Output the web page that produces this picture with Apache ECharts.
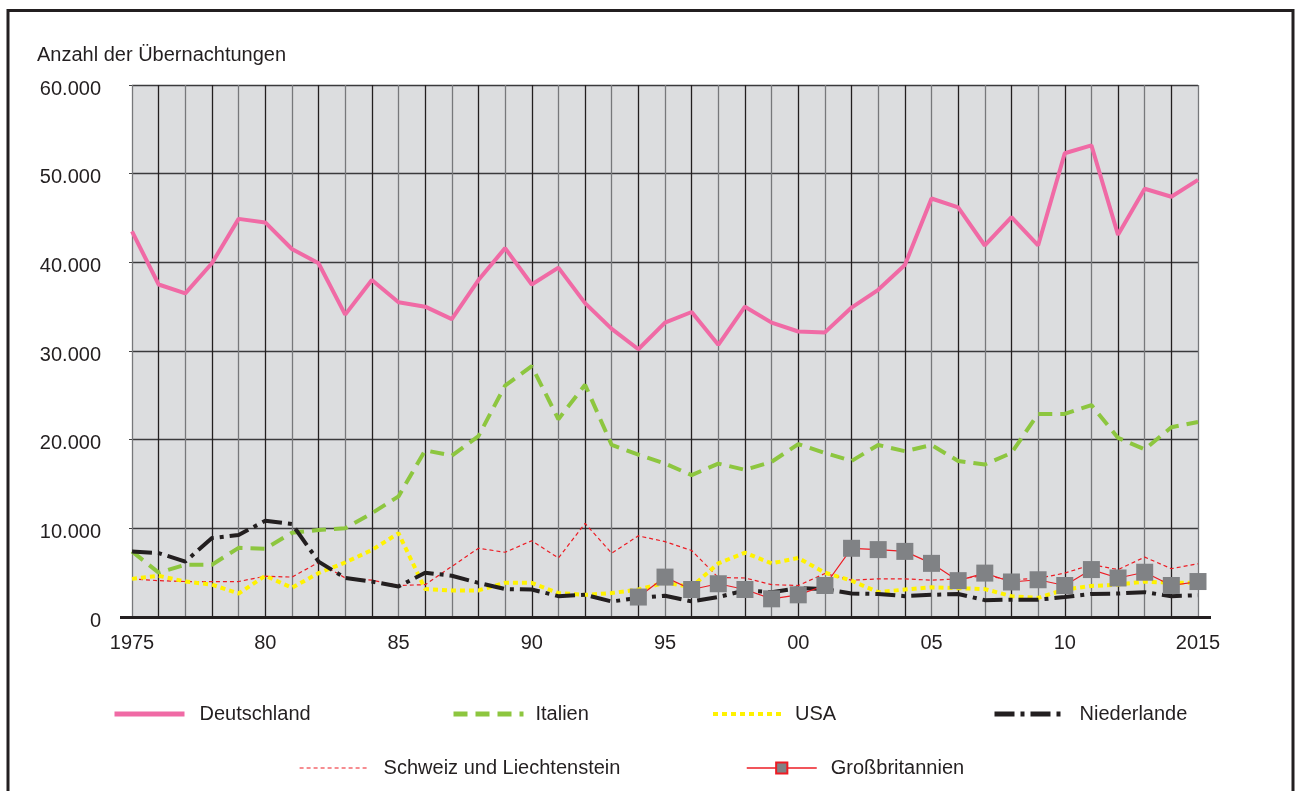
<!DOCTYPE html>
<html><head><meta charset="utf-8">
<script src="https://cdn.jsdelivr.net/npm/echarts@6/dist/echarts.min.js"></script>
<style>html,body{margin:0;padding:0;background:#fff}#c{width:1300px;height:791px}</style>
</head><body><div id="c"></div>
<script>
const years = [];
for (let y = 1975; y <= 2015; y++) years.push(String(y));
const tickLabels = ['1975','80','85','90','95','00','05','10','2015'];
const yAxisTitle = 'Anzahl der Übernachtungen';

const deutschland = [43500,37500,36500,39900,44900,44500,41500,39900,34100,38000,35500,35000,33600,38000,41600,37500,39400,35400,32500,30200,33200,34400,30700,35000,33200,32200,32100,34900,36900,39700,47200,46200,41900,45100,41900,52300,53200,43100,48300,47400,49300];
const italien = [7400,5000,5900,5900,7800,7700,9500,9800,10000,11700,13600,18800,18200,20400,26100,28300,22300,26200,19400,18300,17300,16000,17300,16600,17500,19500,18500,17600,19400,18700,19400,17600,17200,18500,22900,22900,23900,20200,18900,21400,22000];
const usa = [4300,4650,4000,3650,2650,4650,3300,4950,6150,7550,9450,3150,3000,3000,3850,3850,2700,2500,2700,3100,3850,3400,6050,7250,6050,6650,5000,4100,2800,3100,3350,3250,3150,2350,2150,3100,3500,3650,4000,3850,3850];
const niederlande = [7400,7200,6250,8900,9250,10850,10500,6250,4400,4000,3450,5000,4650,3850,3150,3100,2350,2500,1750,2150,2400,1750,2250,3000,2800,3250,3150,2650,2600,2350,2500,2600,1900,1950,1950,2250,2600,2650,2800,2350,2450];
const schweiz = [4300,4100,4000,4000,4000,4600,4500,6150,4400,4150,3550,3650,5700,7750,7300,8600,6650,10550,7200,9150,8500,7500,4450,4400,3650,3550,4900,4150,4300,4300,4150,4300,4650,4200,4350,4950,5900,5350,6750,5450,6000];
const grossbritannien = [null,null,null,null,null,null,null,null,null,null,null,null,null,null,null,null,null,null,null,2250,4500,3100,3750,3100,2050,2500,3550,7750,7600,7400,6050,4100,4950,3950,4200,3550,5350,4400,5050,3550,4000];

const FONT = 'Liberation Sans';
const chart = echarts.init(document.getElementById('c'), null, {renderer: 'canvas'});

function lg(name, left, top, pad, lw, withSymbol) {
  const o = {
    data: [name], left: left, top: top, padding: 0, itemWidth: 70, itemHeight: 14, orient: 'horizontal',
    selectedMode: false,
    lineStyle: {width: lw},
    textStyle: {fontFamily: FONT, fontSize: 20, color: '#231f20', padding: [0, 0, 0, pad]}
  };
  if (!withSymbol) o.itemStyle = {opacity: 0};
  else o.itemStyle = {borderColor: '#ed1c24', borderWidth: 2};
  return o;
}

chart.setOption({
  animation: false,
  backgroundColor: '#fff',
  textStyle: {fontFamily: FONT},
  title: {
    text: yAxisTitle, left: 37, top: 45, padding: 0,
    textStyle: {fontFamily: FONT, fontSize: 20, fontWeight: 'normal', color: '#231f20'}
  },
  graphic: [
    {type: 'rect', shape: {x: 8, y: 10.5, width: 1285, height: 800}, style: {fill: 'none', stroke: '#231f20', lineWidth: 3}, z: 100},
    {type: 'line', shape: {x1: 120, y1: 617.5, x2: 1211, y2: 617.5}, style: {stroke: '#231f20', lineWidth: 3}, z: 100}
  ],
  legend: [
    lg('Deutschland', 112, 704, 10, 5, false),
    lg('Italien', 451, 704, 7, 5, false),
    lg('USA', 711, 704, 7, 4, false),
    lg('Niederlande', 992, 704, 10, 5, false),
    lg('Schweiz und Liechtenstein', 299, 758, 9, 1.2, false),
    lg('Großbritannien', 746, 758, 9, 1.5, true)
  ],
  grid: {left: 132, right: 102, top: 85, bottom: 174, show: true, backgroundColor: '#dcdddf', borderWidth: 0},
  xAxis: {
    type: 'category', data: years, boundaryGap: false,
    axisLine: {show: true, lineStyle: {color: '#231f20', width: 3}},
    axisTick: {show: false},
    axisLabel: {
      interval: 0, margin: 16, fontFamily: FONT, fontSize: 20, color: '#231f20',
      formatter: (v, i) => (i % 5 === 0 ? tickLabels[i / 5] : '')
    },
    splitLine: {show: true, interval: 0, lineStyle: {color: ['#77787b', '#231f20'], width: 1.3}}
  },
  yAxis: {
    type: 'value', min: 0, max: 60000, interval: 10000,
    axisLine: {show: false},
    axisTick: {show: true, length: 3, lineStyle: {color: '#444'}},
    axisLabel: {
      margin: 31, fontFamily: FONT, fontSize: 20, color: '#231f20',
      verticalAlign: 'top', lineHeight: 8,
      formatter: v => String(v).replace(/\B(?=(\d{3})+(?!\d))/g, '.')
    },
    splitLine: {show: true, lineStyle: {color: '#3a3a3c', width: 1.3}}
  },
  series: [
    {name: 'Schweiz und Liechtenstein', type: 'line', data: schweiz, symbol: 'none', z: 2,
      lineStyle: {color: '#ed1c24', width: 1.2, type: [4, 3]}, itemStyle: {color: '#ed1c24'}},
    {name: 'Italien', type: 'line', data: italien, symbol: 'none', z: 3,
      lineStyle: {color: '#8dc63f', width: 4, type: [14, 8]}, itemStyle: {color: '#8dc63f'}},
    {name: 'USA', type: 'line', data: usa, symbol: 'none', z: 4,
      lineStyle: {color: '#fff200', width: 4, type: [5, 4]}, itemStyle: {color: '#fff200'}},
    {name: 'Niederlande', type: 'line', data: niederlande, symbol: 'none', z: 5,
      lineStyle: {color: '#231f20', width: 4, type: [20, 6, 4, 6]}, itemStyle: {color: '#231f20'}},
    {name: 'Deutschland', type: 'line', data: deutschland, symbol: 'none', z: 6,
      lineStyle: {color: '#f06aa5', width: 4}, itemStyle: {color: '#f06aa5'}},
    {name: 'Großbritannien', type: 'line', data: grossbritannien, symbol: 'rect', symbolSize: 17, z: 7,
      connectNulls: false,
      lineStyle: {color: '#ed1c24', width: 1.2}, itemStyle: {color: '#808285', borderWidth: 0}}
  ]
});
</script></body></html>
